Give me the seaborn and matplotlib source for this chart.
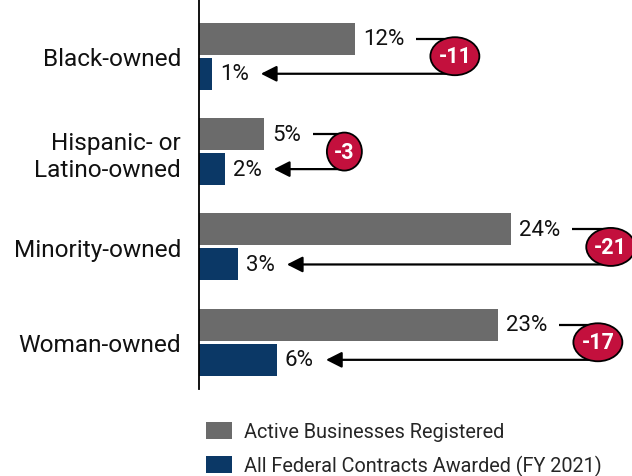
import matplotlib
matplotlib.use("Agg")
import matplotlib.pyplot as plt
import seaborn as sns
import pandas as pd
from matplotlib.patches import Ellipse

# Data
categories = ["Black-owned", "Hispanic- or\nLatino-owned", "Minority-owned", "Woman-owned"]
registered = [12, 5, 24, 23]
awarded = [1, 2, 3, 6]
differences = [-11, -3, -21, -17]
series_names = ["Active Businesses Registered", "All Federal Contracts Awarded (FY 2021)"]

GRAY = "#6b6b6b"
NAVY = "#0b3866"
RED = "#c3103d"

sns.set_theme(style="white")
plt.rcParams["font.family"] = ["Roboto", "DejaVu Sans"]

df = pd.DataFrame({
    "Group": categories * 2,
    "Share": registered + awarded,
    "Series": [series_names[0]] * len(categories) + [series_names[1]] * len(categories),
})

W, H = 632, 477
fig = plt.figure(figsize=(W / 100, H / 100), dpi=100)
ax = fig.add_axes([199 / W, 1 - 390 / H, (W - 199) / W, 390 / H])

sns.barplot(data=df, x="Share", y="Group", hue="Series", orient="h",
            palette=[GRAY, NAVY], saturation=1, width=0.736, gap=0.087,
            linewidth=0, ax=ax)

ax.set_xlim(0, (W - 199) / 13)
ax.set_ylim(3.49, -0.6)
ax.set_xlabel("")
ax.set_ylabel("")
ax.set_xticks([])
for side in ["top", "right", "bottom"]:
    ax.spines[side].set_visible(False)
ax.spines["left"].set_color("black")
ax.spines["left"].set_linewidth(1.3)
ax.tick_params(axis="y", length=0, pad=13, labelsize=17.6, labelcolor="#111111")

# Legend
handles, labels = ax.get_legend_handles_labels()
ax.legend_.remove()
fig.legend(handles, labels, loc="upper left", bbox_to_anchor=(206 / W, 1 - 423 / H),
           frameon=False, fontsize=14.3, handlelength=1.3, handleheight=0.95,
           handletextpad=0.6, labelspacing=0.68, borderpad=0, borderaxespad=0)

# Value labels
gray_bars = ax.containers[0]
navy_bars = ax.containers[1]
gray_texts, navy_texts = [], []
for bars, vals, store in [(gray_bars, registered, gray_texts), (navy_bars, awarded, navy_texts)]:
    for bar, v in zip(bars, vals):
        yc = bar.get_y() + bar.get_height() / 2
        t = ax.annotate(f"{v}%", xy=(bar.get_width(), yc), xytext=(8, 0),
                        textcoords="offset pixels", va="center", ha="left",
                        fontsize=16, color="#111111")
        store.append((t, yc))

fig.canvas.draw()
renderer = fig.canvas.get_renderer()
to_data = ax.transData.inverted()

# Difference brackets with badges
for i, d in enumerate(differences):
    gt, gy = gray_texts[i]
    nt, ny = navy_texts[i]
    gb = gt.get_window_extent(renderer)
    nb = nt.get_window_extent(renderer)
    label = f"{d}"
    ell_w_px = 49 if len(label) > 2 else 35
    ell_h_px = 38
    start_px = gb.x1 + 12
    cx_px = start_px + ell_w_px / 2 + 14
    tip_px = nb.x1 + 12
    x_start = to_data.transform((start_px, 0))[0]
    x_c = to_data.transform((cx_px, 0))[0]
    x_tip = to_data.transform((tip_px, 0))[0]
    ax.plot([x_start, x_c, x_c], [gy, gy, ny], color="black", lw=1.6,
            solid_capstyle="butt", clip_on=False, zorder=3)
    ax.annotate("", xy=(x_tip, ny), xytext=(x_c, ny),
                arrowprops=dict(arrowstyle="-|>,head_length=0.95,head_width=0.48",
                                mutation_scale=10, lw=1.6, color="black",
                                shrinkA=0, shrinkB=0),
                annotation_clip=False, zorder=3)
    yc = (gy + ny) / 2
    w_data = ell_w_px / 13
    h_data = abs(to_data.transform((0, 0))[1] - to_data.transform((0, ell_h_px))[1])
    ax.add_patch(Ellipse((x_c, yc), w_data, h_data, facecolor=RED, edgecolor="black",
                         lw=1.3, clip_on=False, zorder=4))
    ax.text(x_c, yc, label, ha="center", va="center", color="white",
            fontsize=15.5, fontweight="bold", zorder=5)

fig.savefig("out.png", dpi=100)
